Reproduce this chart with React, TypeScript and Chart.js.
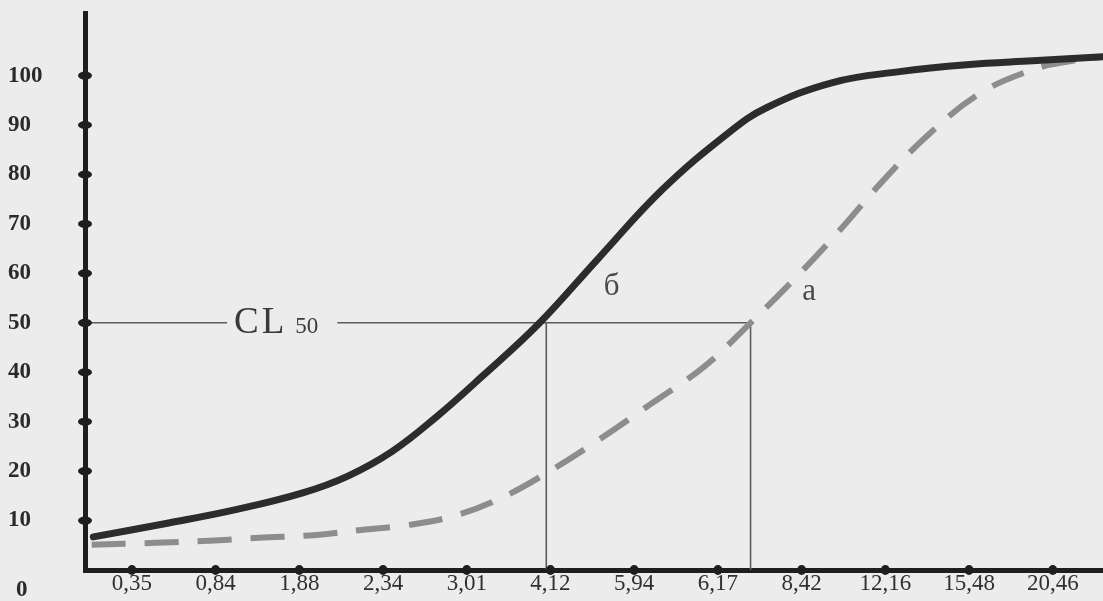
import { useEffect, useRef } from 'react';
import { Chart, registerables } from 'chart.js';

Chart.register(...registerables);

// ---- data ----
const xTickLabels = ['0,35', '0,84', '1,88', '2,34', '3,01', '4,12', '5,94', '6,17', '8,42', '12,16', '15,48', '20,46'];
const yTickValues = [0, 10, 20, 30, 40, 50, 60, 70, 80, 90, 100];

// curve "б" (solid) – x in tick-index units, y in %
const curveBX = [-0.46, 0.44, 1.24, 2.04, 2.58, 3.11, 3.64, 4.18, 4.86, 5.56, 6.34, 7.14, 7.58, 8.37, 9.17, 9.97, 10.76, 11.6];
const curveBY = [6.7, 9.5, 12.2, 15.6, 19.0, 24.0, 31.0, 39.1, 49.8, 62.8, 77.0, 88.6, 93.5, 98.6, 100.8, 102.2, 103.0, 103.8];

// curve "а" (dashed)
const curveAX = [-0.48, 0.29, 0.92, 1.52, 2.21, 2.74, 3.3, 3.88, 4.44, 5.03, 5.61, 6.2, 6.84, 7.39, 7.94, 8.46, 8.97, 9.53, 10.13, 10.76, 11.17, 11.6];
const curveAY = [5.1, 5.5, 5.9, 6.5, 7.1, 8.1, 9.1, 11.1, 14.8, 20.4, 26.7, 33.6, 41.2, 50.0, 59.3, 68.8, 78.7, 88.3, 96.4, 101.2, 102.8, 103.8];

const cl50Value = 50;
const cl50CurveB = 4.95;
const cl50CurveA = 7.39;
const curveBName = 'б';
const curveAName = 'а';
const curveBLabelAt = [5.73, 57.3];
const curveALabelAt = [8.09, 56.3];
const clLabelAt = 1.22;

const SERIF = '"Liberation Serif", "DejaVu Serif", serif';

const decorPlugin = {
  id: 'decor',
  beforeDatasetsDraw(chart: any) {
    const { ctx, scales } = chart;
    const x = scales.x, y = scales.y;
    const y50 = y.getPixelForValue(cl50Value);
    const y0 = y.getPixelForValue(0);
    const xb = x.getPixelForValue(cl50CurveB);
    const xa = x.getPixelForValue(cl50CurveA);
    const left = chart.chartArea.left;
    const clX = x.getPixelForValue(clLabelAt);

    ctx.save();
    // CL 50 text
    ctx.fillStyle = '#3a3a3a';
    ctx.textBaseline = 'alphabetic';
    ctx.textAlign = 'left';
    ctx.font = `37px ${SERIF}`;
    (ctx as any).letterSpacing = '3px';
    ctx.fillText('CL', clX, y50 + 10);
    const wCL = ctx.measureText('CL').width;
    (ctx as any).letterSpacing = '0px';
    ctx.font = `23px ${SERIF}`;
    ctx.fillText('50', clX + wCL + 8, y50 + 10);
    const w50 = ctx.measureText('50').width;
    const gapL = clX - 7;
    const gapR = clX + wCL + 8 + w50 + 19;

    ctx.strokeStyle = '#5c5c5c';
    ctx.lineWidth = 1.6;
    ctx.beginPath();
    ctx.moveTo(left, y50);
    ctx.lineTo(gapL, y50);
    ctx.moveTo(gapR, y50);
    ctx.lineTo(xa, y50);
    ctx.moveTo(xb, y50);
    ctx.lineTo(xb, y0);
    ctx.moveTo(xa, y50);
    ctx.lineTo(xa, y0);
    ctx.stroke();

    // curve names
    ctx.fillStyle = '#4a4a4a';
    ctx.font = `31px ${SERIF}`;
    ctx.textAlign = 'center';
    ctx.textBaseline = 'middle';
    ctx.fillText(curveBName, x.getPixelForValue(curveBLabelAt[0]), y.getPixelForValue(curveBLabelAt[1]));
    ctx.fillText(curveAName, x.getPixelForValue(curveALabelAt[0]), y.getPixelForValue(curveALabelAt[1]));
    ctx.restore();
  },
  afterDraw(chart: any) {
    const { ctx, scales } = chart;
    const x = scales.x, y = scales.y;
    const axX = chart.chartArea.left;
    const axY = chart.chartArea.bottom;
    ctx.save();
    ctx.fillStyle = '#1e1e1e';
    // y tick dots
    yTickValues.forEach((v) => {
      if (v === 0) return;
      const py = y.getPixelForValue(v);
      ctx.beginPath();
      ctx.ellipse(axX, py, 7, 4, 0, 0, Math.PI * 2);
      ctx.fill();
    });
    // x tick dots
    xTickLabels.forEach((_, i) => {
      const px = x.getPixelForValue(i);
      ctx.beginPath();
      ctx.ellipse(px, axY, 4.5, 5, 0, 0, Math.PI * 2);
      ctx.fill();
    });
    // lone "0" label in the corner
    ctx.fillStyle = '#2a2a2a';
    ctx.font = `bold 23px ${SERIF}`;
    ctx.textAlign = 'left';
    ctx.textBaseline = 'middle';
    ctx.fillText('0', 16, y.getPixelForValue(0) + 20);
    ctx.restore();
  },
};

export default function App() {
  const ref = useRef<HTMLCanvasElement | null>(null);

  useEffect(() => {
    document.body.style.margin = '0';
    document.body.style.background = '#ececec';
    const canvas = ref.current;
    if (!canvas) return;
    const chart = new Chart(canvas, {
      type: 'line',
      data: {
        datasets: [
          {
            label: curveBName,
            data: curveBX.map((v, i) => ({ x: v, y: curveBY[i] })),
            borderColor: '#2c2c2c',
            borderWidth: 7,
            pointRadius: 0,
            tension: 0.4,
            borderCapStyle: 'round',
            fill: false,
          },
          {
            label: curveAName,
            data: curveAX.map((v, i) => ({ x: v, y: curveAY[i] })),
            borderColor: '#8d8d8d',
            borderWidth: 6,
            borderDash: [34, 19],
            pointRadius: 0,
            tension: 0.4,
            borderCapStyle: 'butt',
            fill: false,
          },
        ],
      },
      options: {
        animation: false,
        responsive: false,
        devicePixelRatio: 1,
        layout: { padding: { left: 8, top: 12, right: 0, bottom: 0 } },
        plugins: {
          legend: { display: false },
          tooltip: { enabled: false },
        },
        scales: {
          x: {
            type: 'linear',
            min: -0.56,
            max: 11.6,
            grid: { display: false, drawTicks: false },
            border: { display: true, color: '#1e1e1e', width: 5 },
            afterBuildTicks: (scale: any) => {
              scale.ticks = xTickLabels.map((_, i) => ({ value: i }));
            },
            afterFit: (scale: any) => {
              scale.height = 31;
            },
            ticks: {
              autoSkip: false,
              maxRotation: 0,
              padding: 0,
              color: '#303030',
              font: { family: SERIF, size: 23 },
              callback: (v: any) => xTickLabels[Math.round(Number(v))] ?? '',
            },
          },
          y: {
            type: 'linear',
            min: 0,
            max: 112.5,
            grid: { display: false, drawTicks: false },
            border: { display: true, color: '#1e1e1e', width: 5 },
            afterBuildTicks: (scale: any) => {
              scale.ticks = yTickValues.map((v) => ({ value: v }));
            },
            afterFit: (scale: any) => {
              scale.width = 77;
            },
            ticks: {
              crossAlign: 'far',
              padding: 0,
              color: '#2a2a2a',
              font: { family: SERIF, size: 23, weight: 'bold' },
              callback: (v: any) => (Number(v) === 0 ? '' : String(v)),
            },
          },
        },
      },
      plugins: [decorPlugin],
    } as any);
    return () => chart.destroy();
  }, []);

  return (
    <div style={{ width: 1103, height: 601, background: '#ececec' }}>
      <canvas ref={ref} width={1103} height={601} style={{ display: 'block' }} />
    </div>
  );
}
